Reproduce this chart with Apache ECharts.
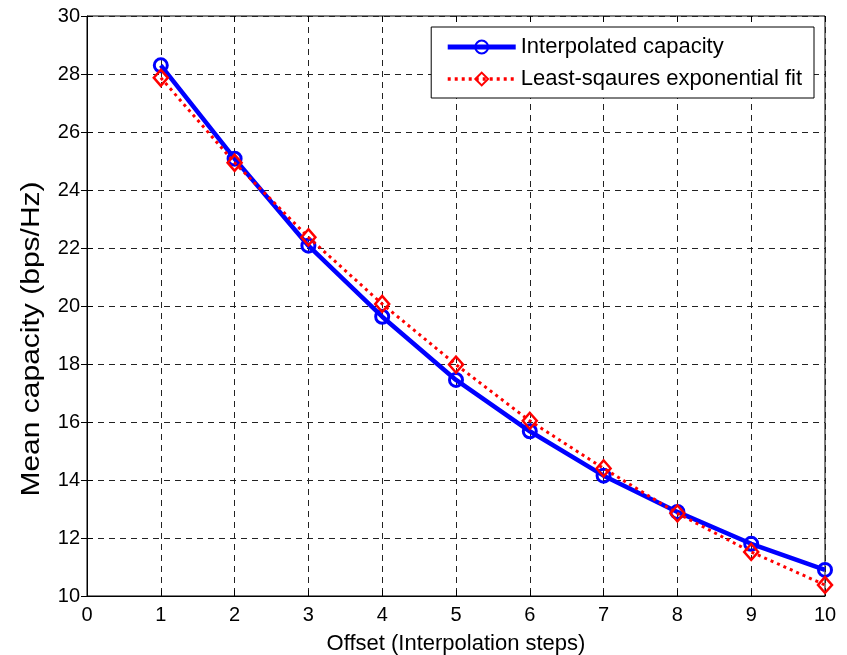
<!DOCTYPE html>
<html>
<head>
<meta charset="utf-8">
<script src="https://cdn.jsdelivr.net/npm/echarts@6/dist/echarts.min.js"></script>
<style>
  html, body { margin: 0; padding: 0; background: #fff; }
  #chart { width: 847px; height: 655px; }
</style>
</head>
<body>
<div id="chart"></div>
<script>
// offsets (interpolation steps)
const offsets = [1, 2, 3, 4, 5, 6, 7, 8, 9, 10];
const interpCapacity = [28.30, 25.08, 22.08, 19.63, 17.45, 15.68, 14.15, 12.90, 11.80, 10.90];
const expFit = [27.87, 24.94, 22.37, 20.07, 17.98, 16.04, 14.40, 12.85, 11.52, 10.38];
const seriesNames = ["Interpolated capacity", "Least-sqaures exponential fit"];
const yTitle = "Mean capacity (bps/Hz)";
const xTitle = "Offset (Interpolation steps)";

const font = "Liberation Sans, Arial, sans-serif";
const pair = (ys) => offsets.map((x, i) => [x, ys[i]]);

const chart = echarts.init(document.getElementById("chart"));
chart.setOption({
  animation: false,
  textStyle: { fontFamily: font },
  grid: {
    left: 87, right: 22, top: 16, bottom: 59,
    outerBoundsMode: "none",
    show: true, borderColor: "#000", borderWidth: 1
  },
  legend: {
    right: 33, top: 27,
    orient: "vertical",
    backgroundColor: "#fff",
    borderColor: "#000", borderWidth: 1,
    padding: [9, 12, 8, 14],
    itemGap: 10,
    itemWidth: 68, itemHeight: 16,
    textStyle: { fontSize: 22, color: "#000", fontFamily: font },
    data: [
      { name: seriesNames[0], lineStyle: { width: 5 } },
      { name: seriesNames[1], lineStyle: { width: 3.5 } }
    ]
  },
  // y title is stretched along its length, like in the original figure
  graphic: [{
    type: "text",
    x: 32, y: 339,
    rotation: Math.PI / 2,
    scaleX: 1.2,
    style: {
      text: yTitle,
      font: "25px " + font,
      fill: "#000",
      align: "center",
      verticalAlign: "middle"
    }
  }],
  xAxis: [{
    type: "value", min: 0, max: 10, interval: 1,
    name: xTitle,
    nameLocation: "middle", nameGap: 37,
    nameTextStyle: { fontSize: 22, color: "#000" },
    axisLine: { onZero: false, lineStyle: { color: "#000" } },
    axisTick: { inside: true, length: 6, lineStyle: { color: "#000" } },
    axisLabel: { fontSize: 20, color: "#000", margin: 9 },
    splitLine: { show: true, lineStyle: { color: "#222", type: [6, 5], width: 1 } }
  }, {
    type: "value", min: 0, max: 10, interval: 1, position: "top",
    axisLine: { show: false },
    axisTick: { inside: true, length: 6, lineStyle: { color: "#000" } },
    axisLabel: { show: false }, splitLine: { show: false }
  }],
  yAxis: [{
    type: "value", min: 10, max: 30, interval: 2,
    axisLine: { show: true, onZero: false, lineStyle: { color: "#000" } },
    axisTick: { show: true, inside: true, length: 6, lineStyle: { color: "#000" } },
    axisLabel: { fontSize: 20, color: "#000", margin: 7 },
    splitLine: { show: true, lineStyle: { color: "#222", type: [6, 5], width: 1 } }
  }, {
    type: "value", min: 10, max: 30, interval: 2, position: "right",
    axisLine: { show: false },
    axisTick: { show: true, inside: true, length: 6, lineStyle: { color: "#000" } },
    axisLabel: { show: false }, splitLine: { show: false }
  }],
  series: [
    {
      name: seriesNames[0],
      type: "line",
      data: pair(interpCapacity),
      symbol: "circle", symbolSize: 13,
      lineStyle: { color: "#0000ff", width: 4.5 },
      itemStyle: { color: "rgba(0,0,0,0)", borderColor: "#0000ff", borderWidth: 3 },
      z: 3
    },
    {
      name: seriesNames[1],
      type: "line",
      data: pair(expFit),
      symbol: "diamond", symbolSize: [14, 16],
      lineStyle: { color: "#ff0000", width: 3, type: [3, 4] },
      itemStyle: { color: "rgba(0,0,0,0)", borderColor: "#ff0000", borderWidth: 2.5 },
      z: 4
    }
  ]
});
</script>
</body>
</html>
